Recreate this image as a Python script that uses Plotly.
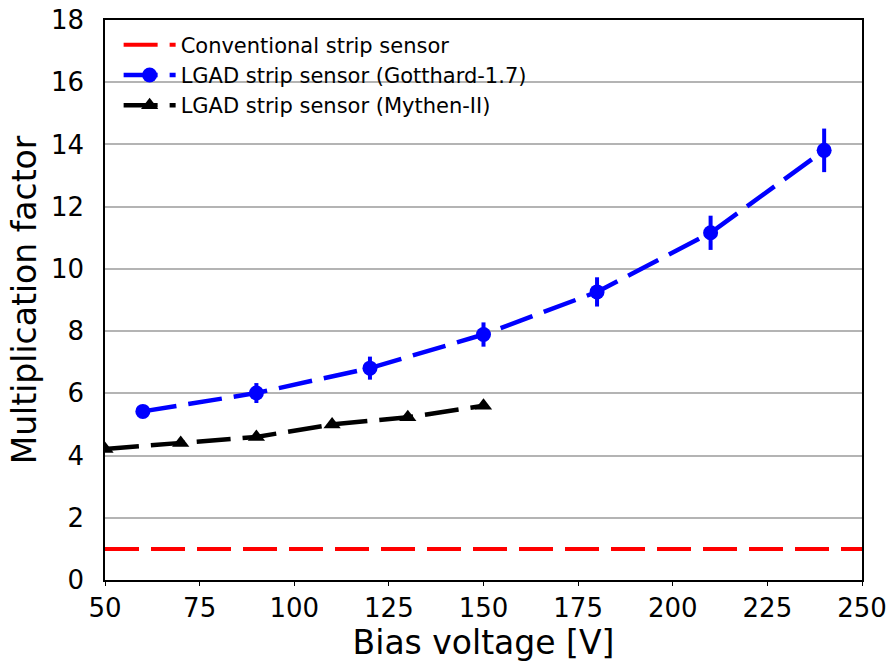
import plotly.graph_objects as go

conv_x = [50, 250]
conv_y = [1, 1]

got_x = [60, 90, 120, 150, 180, 210, 240]
got_y = [5.42, 6.01, 6.81, 7.89, 9.26, 11.16, 13.81]
got_err = [0.2, 0.32, 0.37, 0.39, 0.47, 0.55, 0.7]

my_x = [50, 70, 90, 110, 130, 150]
my_y = [4.21, 4.4, 4.6, 5.0, 5.23, 5.6]

DASH = "34px,12px"

fig = go.Figure()
fig.add_trace(go.Scatter(x=conv_x, y=conv_y, mode="lines",
                         name="Conventional strip sensor",
                         line=dict(color="#ff0000", width=4, dash=DASH)))
fig.add_trace(go.Scatter(x=got_x, y=got_y, mode="lines+markers",
                         name="LGAD strip sensor (Gotthard-1.7)",
                         line=dict(color="#0000ff", width=4.5, dash=DASH),
                         marker=dict(color="#0000ff", size=15, symbol="circle"),
                         error_y=dict(type="data", array=got_err, color="#0000ff",
                                      thickness=4, width=0)))
fig.add_trace(go.Scatter(x=my_x, y=my_y, mode="lines+markers",
                         name="LGAD strip sensor (Mythen-II)",
                         line=dict(color="#000000", width=4.5, dash=DASH),
                         marker=dict(color="#000000", size=15, symbol="triangle-up")))

fig.update_layout(
    width=889, height=666,
    margin=dict(l=105, r=27, t=20, b=86),
    paper_bgcolor="white", plot_bgcolor="white",
    font=dict(family="DejaVu Sans", color="black"),
    showlegend=True,
    legend=dict(x=0.018, y=0.992, xanchor="left", yanchor="top",
                bgcolor="rgba(0,0,0,0)", font=dict(size=21, family="DejaVu Sans"),
                itemwidth=52, tracegroupgap=0),
)
fig.update_xaxes(range=[50, 250], tickvals=[50, 75, 100, 125, 150, 175, 200, 225, 250],
                 showgrid=False, showline=True, linecolor="black", linewidth=1.5,
                 mirror=True, ticks="outside", ticklen=4, tickcolor="black",
                 tickfont=dict(size=26, family="DejaVu Sans"),
                 title=dict(text="Bias voltage [V]", font=dict(size=33, family="DejaVu Sans"),
                            standoff=4),
                 automargin=False, zeroline=False)
fig.update_yaxes(range=[0, 18], tickvals=list(range(0, 19, 2)),
                 showgrid=True, gridcolor="#b4b4b4", gridwidth=1.5,
                 showline=True, linecolor="black", linewidth=1.5,
                 mirror=True, ticks="", ticklabelstandoff=14,
                 tickfont=dict(size=26, family="DejaVu Sans"),
                 title=dict(text="Multiplication factor", font=dict(size=33, family="DejaVu Sans"),
                            standoff=4),
                 automargin=False, zeroline=False)

fig.write_html("out.html", config={"displayModeBar": False},
               post_script="document.body.style.margin='0';document.body.style.overflow='hidden';")
